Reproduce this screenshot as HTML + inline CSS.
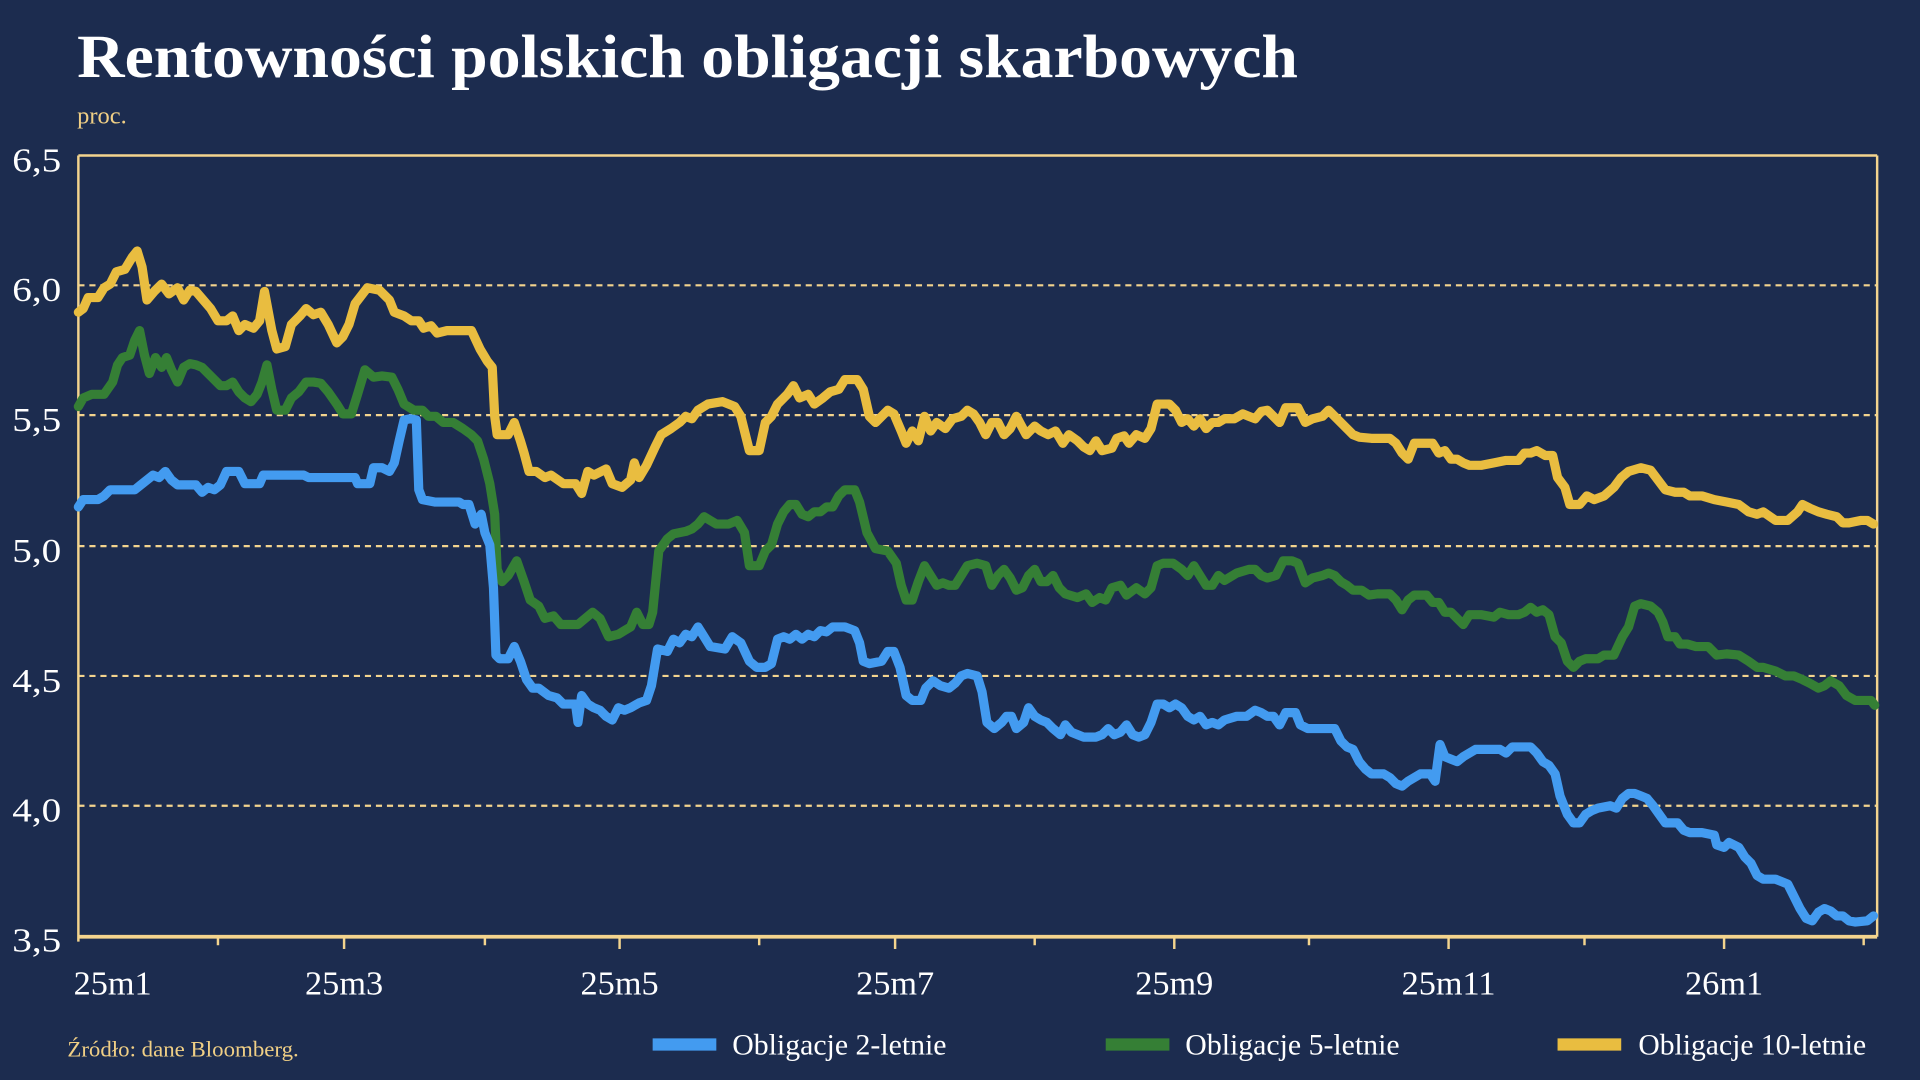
<!DOCTYPE html>
<html><head><meta charset="utf-8"><style>
html,body{margin:0;padding:0;background:#1c2c4f;}
svg{display:block;}
text{font-family:"Liberation Serif",serif;}
</style></head><body>
<svg width="1920" height="1080" viewBox="0 0 1568 882" xmlns="http://www.w3.org/2000/svg">
<rect width="1568" height="882" fill="#1c2c4f"/>
<text x="63" y="63" font-size="50" font-weight="bold" fill="#ffffff" textLength="997" lengthAdjust="spacingAndGlyphs">Rentowności polskich obligacji skarbowych</text>
<text x="63" y="101" font-size="20" fill="#f0cf85">proc.</text>
<g stroke="#f3d48e" stroke-width="1.8" stroke-dasharray="5,4" fill="none">
<line x1="64" y1="233" x2="1533" y2="233"/>
<line x1="64" y1="339" x2="1533" y2="339"/>
<line x1="64" y1="446" x2="1533" y2="446"/>
<line x1="64" y1="552" x2="1533" y2="552"/>
<line x1="64" y1="658" x2="1533" y2="658"/>
</g>
<g stroke="#f3d48e" fill="none">
<line x1="64" y1="127" x2="1533" y2="127" stroke-width="2"/>
<line x1="64" y1="127" x2="64" y2="769" stroke-width="2"/>
<line x1="1533" y1="127" x2="1533" y2="765" stroke-width="2"/>
<line x1="64" y1="765" x2="1533" y2="765" stroke-width="3"/>
<path d="M178 765v7M281 765v10M396 765v7M506 765v10M620 765v7M731 765v10M845 765v7M959 765v10M1069 765v7M1183 765v10M1294 765v7M1408 765v10M1522 765v7" stroke-width="2"/>
</g>
<g font-size="28" fill="#ffffff">
<text x="10" y="140" textLength="40" lengthAdjust="spacingAndGlyphs">6,5</text>
<text x="10" y="246" textLength="40" lengthAdjust="spacingAndGlyphs">6,0</text>
<text x="10" y="352" textLength="40" lengthAdjust="spacingAndGlyphs">5,5</text>
<text x="10" y="459" textLength="40" lengthAdjust="spacingAndGlyphs">5,0</text>
<text x="10" y="565" textLength="40" lengthAdjust="spacingAndGlyphs">4,5</text>
<text x="10" y="671" textLength="40" lengthAdjust="spacingAndGlyphs">4,0</text>
<text x="10" y="777" textLength="40" lengthAdjust="spacingAndGlyphs">3,5</text>
</g>
<g font-size="28" fill="#ffffff" text-anchor="middle">
<text x="92" y="812">25m1</text>
<text x="281" y="812">25m3</text>
<text x="506" y="812">25m5</text>
<text x="731" y="812">25m7</text>
<text x="959" y="812">25m9</text>
<text x="1183" y="812">25m11</text>
<text x="1408" y="812">26m1</text>
</g>
<g fill="none" stroke-width="7.5" stroke-linejoin="round" stroke-linecap="round">
<polyline stroke="#e9bd40" points="64,255 68,252 72,243 80,243 85,235 90,232 95,222 102,220 108,210 112,205 116,218 120,245 126,238 132,232 138,240 145,235 150,245 155,237 160,238 166,245 172,252 178,262 185,262 190,258 195,270 200,265 207,268 212,262 216,238 222,270 226,285 233,283 238,265 245,258 250,252 256,257 262,255 268,265 275,280 280,275 285,265 290,248 300,235 310,237 318,245 322,255 330,258 336,262 342,262 346,268 352,266 357,272 365,270 375,270 385,270 392,285 398,295 402,300 404,340 406,355 415,355 420,345 425,360 428,370 432,385 438,385 445,390 450,388 460,395 470,395 475,403 480,385 485,388 495,383 500,395 508,398 515,392 518,378 522,390 528,380 535,365 540,355 548,350 555,345 560,340 565,342 570,335 578,330 590,328 600,332 605,340 612,368 620,368 625,345 630,340 635,330 643,322 648,315 653,325 660,322 665,330 672,325 678,320 685,318 690,310 700,310 705,318 710,340 715,345 720,340 725,335 730,338 736,352 740,362 745,352 750,360 755,340 760,352 765,345 772,350 778,342 785,340 790,335 795,338 800,345 805,355 810,345 815,345 820,355 825,350 830,340 838,355 845,348 850,352 856,355 862,352 868,362 873,355 880,360 885,365 890,368 895,360 900,368 908,366 912,358 918,356 922,362 928,355 935,358 940,350 945,330 955,330 960,335 965,345 970,342 975,348 980,342 985,350 990,345 995,345 1000,342 1008,342 1015,338 1020,340 1025,342 1030,336 1035,335 1040,340 1045,345 1050,333 1060,333 1066,345 1072,342 1080,340 1085,335 1090,340 1095,345 1100,350 1105,355 1110,357 1120,358 1135,358 1140,362 1145,370 1150,375 1155,362 1160,362 1170,362 1175,370 1180,368 1185,375 1190,375 1195,378 1200,380 1210,380 1220,378 1230,376 1240,376 1245,370 1250,370 1255,368 1262,372 1268,372 1272,390 1278,398 1282,412 1290,412 1296,405 1302,408 1310,405 1318,398 1324,390 1330,385 1340,382 1348,384 1354,392 1360,400 1368,402 1375,402 1380,405 1390,405 1400,408 1410,410 1420,412 1428,418 1435,420 1440,418 1450,425 1460,425 1468,418 1472,412 1478,415 1485,418 1492,420 1500,422 1505,427 1510,427 1520,425 1525,425 1530,428"/>
<polyline stroke="#357f35" points="64,332 68,325 75,322 85,322 92,312 96,298 100,292 106,290 110,278 114,270 118,290 122,305 127,292 132,300 136,292 140,302 145,312 150,300 155,297 160,298 165,300 170,305 175,310 180,315 185,315 190,312 195,320 200,325 205,328 210,322 214,312 218,298 222,318 226,335 233,335 238,325 244,320 250,312 256,312 262,313 268,320 275,330 280,338 287,338 292,322 298,302 305,308 312,307 320,308 325,318 330,330 338,335 345,335 350,340 356,340 362,345 370,345 378,350 385,355 390,360 395,375 400,395 404,420 406,465 410,475 415,470 422,458 428,475 433,490 440,495 445,505 452,503 458,510 465,510 472,510 478,505 484,500 490,505 497,520 505,518 510,515 515,512 520,500 525,510 530,510 533,500 538,450 545,440 550,436 555,435 560,434 565,432 570,428 575,422 580,425 585,428 595,428 602,425 608,435 612,462 620,462 625,450 630,445 635,428 640,418 645,412 650,412 655,420 660,422 665,418 670,418 675,414 680,414 685,405 690,400 698,400 702,410 708,435 715,448 725,450 732,460 736,478 740,490 745,490 750,475 755,462 760,470 765,478 770,476 775,478 780,478 785,470 790,462 798,460 805,462 810,478 815,470 820,465 825,472 830,482 835,480 840,470 845,465 850,475 855,475 860,470 865,480 870,485 880,488 887,485 892,492 898,488 903,490 908,480 915,478 920,486 928,480 935,485 940,480 945,462 950,460 958,460 965,465 970,470 975,462 980,470 985,478 990,478 995,470 1000,474 1010,468 1020,465 1025,465 1030,470 1035,472 1042,470 1048,458 1055,458 1060,460 1066,476 1072,472 1080,470 1085,468 1090,470 1095,475 1100,478 1105,482 1112,482 1118,486 1125,485 1135,485 1140,490 1145,498 1150,490 1155,486 1165,486 1170,492 1175,492 1180,500 1185,500 1190,505 1195,510 1200,502 1210,502 1220,504 1225,500 1232,502 1240,502 1245,500 1250,496 1255,500 1260,498 1265,502 1270,520 1275,525 1280,540 1285,545 1290,540 1295,538 1305,538 1310,535 1318,535 1325,520 1330,512 1335,495 1340,493 1348,495 1354,500 1358,508 1362,520 1368,520 1372,526 1378,526 1385,528 1395,528 1402,535 1410,534 1420,535 1428,540 1435,545 1440,545 1450,548 1458,552 1465,552 1472,555 1478,558 1485,562 1490,560 1495,556 1502,560 1508,568 1515,572 1522,572 1528,572 1531,576"/>
<polyline stroke="#439bf0" points="64,414 68,408 80,408 85,405 90,400 110,400 115,396 120,392 125,388 130,390 135,385 140,392 145,396 160,396 165,402 170,398 175,400 180,396 185,385 195,385 200,395 212,395 215,388 248,388 252,390 290,390 292,395 302,395 305,382 312,382 318,385 322,378 326,360 330,343 335,342 340,343 342,400 345,408 355,410 375,410 378,412 383,412 388,428 393,420 396,435 400,445 403,480 405,535 408,538 415,538 420,528 425,540 430,555 435,562 440,562 448,568 455,570 460,575 470,575 472,590 475,568 480,575 485,578 490,580 495,585 500,588 505,578 510,580 515,578 522,574 528,572 532,560 537,530 545,532 550,522 555,525 560,518 565,520 570,512 575,520 580,528 592,530 598,520 605,525 612,540 618,545 625,545 630,542 635,522 640,520 645,522 650,518 655,522 660,518 665,520 670,515 675,516 680,512 690,512 698,515 702,525 705,540 710,542 720,540 725,532 730,532 735,545 740,568 745,572 752,572 756,562 762,556 768,560 775,562 780,558 785,552 790,550 798,552 802,565 806,590 812,595 818,590 822,585 826,585 830,595 836,590 840,578 845,585 850,588 855,590 860,595 866,600 870,592 875,598 880,600 885,602 895,602 900,600 905,595 910,600 915,598 920,592 925,600 930,602 935,600 940,590 945,575 950,575 955,578 960,575 965,578 970,585 975,588 980,585 985,592 990,590 995,592 1000,588 1010,585 1018,585 1025,580 1030,582 1035,585 1040,585 1045,592 1050,582 1058,582 1062,592 1068,595 1090,595 1095,605 1100,610 1105,612 1110,622 1115,628 1120,632 1130,632 1135,635 1140,640 1145,642 1150,638 1155,635 1160,632 1168,632 1172,638 1176,608 1180,618 1185,620 1190,622 1195,618 1200,615 1205,612 1225,612 1230,615 1235,610 1250,610 1255,615 1260,622 1265,625 1270,632 1274,650 1280,665 1285,672 1290,672 1295,665 1300,662 1305,660 1315,658 1320,660 1325,652 1330,648 1335,648 1340,650 1345,652 1350,658 1355,665 1360,672 1370,672 1375,678 1380,680 1390,680 1400,682 1402,690 1408,692 1412,688 1420,692 1425,700 1430,705 1435,715 1440,718 1450,718 1455,720 1460,722 1465,732 1470,742 1475,750 1480,752 1485,745 1490,742 1495,744 1500,748 1505,748 1510,752 1515,753 1525,752 1530,748"/>
</g>
<text x="55" y="863" font-size="18" fill="#f0cf85" textLength="189" lengthAdjust="spacingAndGlyphs">Źródło: dane Bloomberg.</text>
<rect x="533" y="848" width="52" height="10" fill="#439bf0"/>
<text x="598" y="861" font-size="24" fill="#ffffff" textLength="175" lengthAdjust="spacingAndGlyphs">Obligacje 2-letnie</text>
<rect x="903" y="848" width="52" height="10" fill="#357f35"/>
<text x="968" y="861" font-size="24" fill="#ffffff" textLength="175" lengthAdjust="spacingAndGlyphs">Obligacje 5-letnie</text>
<rect x="1272" y="848" width="52" height="10" fill="#e9bd40"/>
<text x="1338" y="861" font-size="24" fill="#ffffff" textLength="186" lengthAdjust="spacingAndGlyphs">Obligacje 10-letnie</text>
</svg>
</body></html>
